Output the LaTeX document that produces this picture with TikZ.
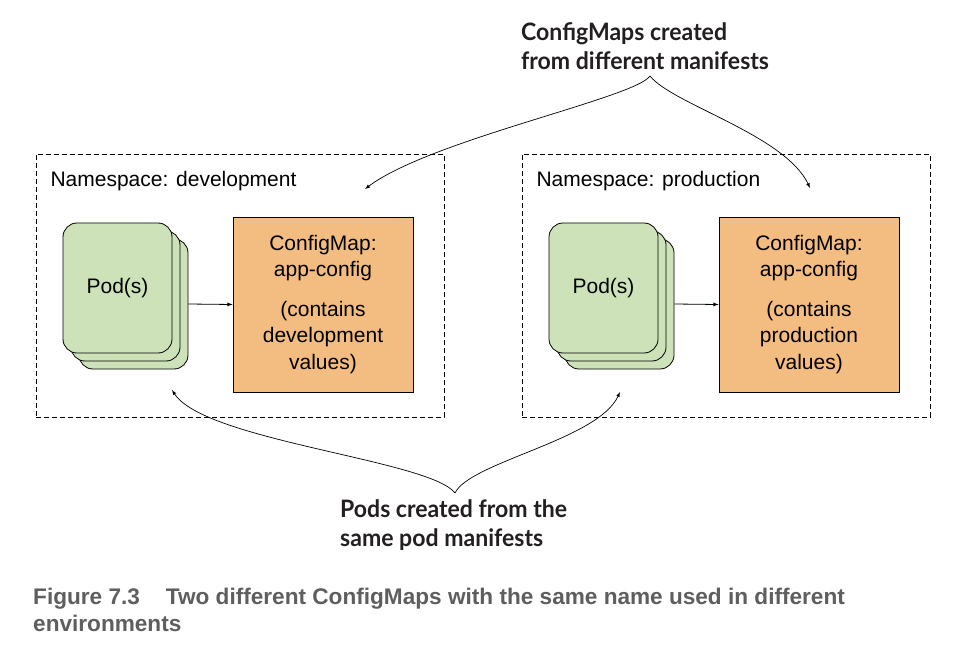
\documentclass[tikz,border=0pt]{standalone}
\usepackage{fontspec}
\setmainfont{Liberation Sans}
\newfontfamily\calloutfont[FakeStretch=0.96]{Lato}
\newfontfamily\capfont{Liberation Sans}
\usetikzlibrary{positioning}
\definecolor{podgreen}{HTML}{CDE2B8}
\definecolor{cfgorange}{HTML}{F3BD81}
\definecolor{capgray}{HTML}{5E5E5E}
\definecolor{ink}{HTML}{231F20}
\tikzset{
  ns/.style={draw, dash pattern=on 5pt off 3pt, line width=0.7pt, minimum width=408pt, minimum height=263pt},
  pod/.style={draw, line width=0.8pt, fill=podgreen, rounded corners=14pt, minimum width=109pt, minimum height=130pt},
  cfg/.style={draw, line width=0.8pt, fill=cfgorange, minimum width=180pt, minimum height=175pt, align=center},
  callout/.style={font=\calloutfont\bfseries\fontsize{24}{28.5}\selectfont, text=ink, align=left, inner sep=0pt},
  curvearrow/.style={->, line width=0.7pt}
}
\begin{document}
\begin{tikzpicture}[>=latex, x=1pt, y=-1pt, font=\fontsize{21}{26.5}\selectfont]
\useasboundingbox (0,0) rectangle (958,668);
\foreach \nm/\val/\dx in {dev/development/0, prod/production/486}
{
    \node[ns](\nm) at (240+\dx,285.5){};
    \node[anchor=west](\nm-label) at (47+\dx,181){Namespace: \val};
    \node[pod](\nm-pod2) at (133.5+\dx,304){};
    \node[pod](\nm-pod1) at (125.5+\dx,296){};
    \node[pod](\nm-pod) at (117.5+\dx,288){Pod(s)};
    \node[cfg](\nm-cfg) at (323+\dx,304.5){ConfigMap:\\app-config\\[13pt](contains\\\val\\values)};
    \draw[->, line width=0.8pt](\nm-pod2.east)--(\nm-cfg.west);
}
% callouts
\node[callout, anchor=north west](top) at (521,22.5){ConfigMaps created\\from different manifests};
\node[callout, anchor=north west](bottom) at (340,499.5){Pods created from the\\same pod manifests};
\coordinate (topc) at (650,76);
\coordinate (devend) at (365,189);
\coordinate (prodend) at (810,188);
\coordinate (botc) at (455,493);
\coordinate (devpodend) at (172,390);
\coordinate (prodpodend) at (620,392);
\draw[curvearrow](topc) .. controls (635,98) and (430,140) .. (devend);
\draw[curvearrow](topc) .. controls (672,104) and (785,135) .. (prodend);
\draw[curvearrow](botc) .. controls (430,460) and (205,441) .. (devpodend);
\draw[curvearrow](botc) .. controls (470,462) and (598,440) .. (prodpodend);
% caption
\node[anchor=north west, inner sep=0pt, align=left, text=capgray, font=\capfont\bfseries\fontsize{22.6}{27}\selectfont](caption) at (33,587.5){Figure 7.3\hspace{26pt}Two different ConfigMaps with the same name used in different\\environments};
\end{tikzpicture}
\end{document}
